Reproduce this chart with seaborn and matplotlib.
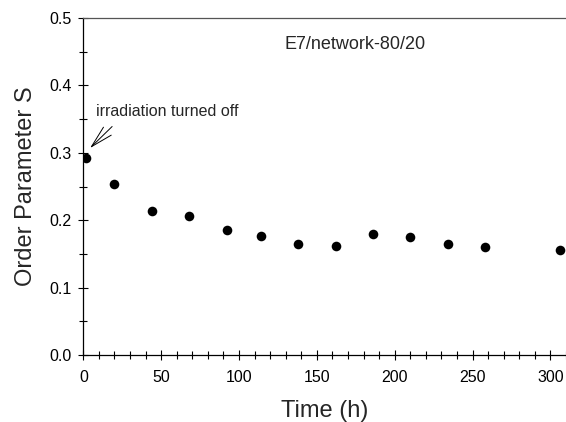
import matplotlib
matplotlib.use("Agg")
import matplotlib.pyplot as plt
import seaborn as sns
import pandas as pd
from matplotlib.ticker import MultipleLocator

time_h = [2, 20, 44, 68, 92, 114, 138, 162, 186, 210, 234, 258, 306]
order_s = [0.293, 0.254, 0.213, 0.206, 0.186, 0.177, 0.165, 0.162, 0.180, 0.175, 0.165, 0.160, 0.156]
x_ticks = [0, 50, 100, 150, 200, 250, 300]
y_ticks = [0.0, 0.1, 0.2, 0.3, 0.4, 0.5]

df = pd.DataFrame({"Time (h)": time_h, "Order Parameter S": order_s})

sns.set_style("ticks")
plt.rcParams["font.family"] = ["Liberation Sans", "DejaVu Sans"]

fig = plt.figure(figsize=(5.66, 4.22), dpi=100)
ax = fig.add_axes([0.1472, 0.1588, 0.8528, 0.7985])

sns.scatterplot(data=df, x="Time (h)", y="Order Parameter S", ax=ax,
                color="black", s=48, edgecolor="black", linewidth=0, zorder=3)

ax.set_xlim(0, 310)
ax.set_ylim(0, 0.5)
ax.set_xticks(x_ticks)
ax.set_yticks(y_ticks)
ax.set_yticklabels([f"{v:.1f}" for v in y_ticks])
ax.xaxis.set_minor_locator(MultipleLocator(10))
ax.yaxis.set_minor_locator(MultipleLocator(0.05))
ax.tick_params(axis="both", which="major", direction="inout", length=7, width=0.8,
               labelsize=11.5, color="black", labelcolor="black")
ax.tick_params(axis="x", which="major", pad=7)
ax.tick_params(axis="y", which="major", pad=5)
ax.tick_params(axis="both", which="minor", direction="inout", length=6, width=0.8, color="black")

for side in ["left", "bottom", "top"]:
    ax.spines[side].set_linewidth(0.9)
    ax.spines[side].set_color("black")
ax.spines["top"].set_color("#555555")
ax.spines["right"].set_visible(False)

ax.set_xlabel("Time (h)", fontsize=17, labelpad=11)
ax.set_ylabel("Order Parameter S", fontsize=17, labelpad=9)

ax.text(129, 0.46, "E7/network-80/20", fontsize=13, va="center", ha="left")
ax.text(8.2, 0.362, "irradiation turned off", fontsize=11.5, va="center", ha="left")
ax.annotate("", xy=(4.3, 0.307), xytext=(18.5, 0.339),
            arrowprops=dict(arrowstyle="->, head_length=1.6, head_width=0.4",
                            color="black", lw=0.7, shrinkA=0, shrinkB=0))

fig.savefig("out.png", dpi=100)
